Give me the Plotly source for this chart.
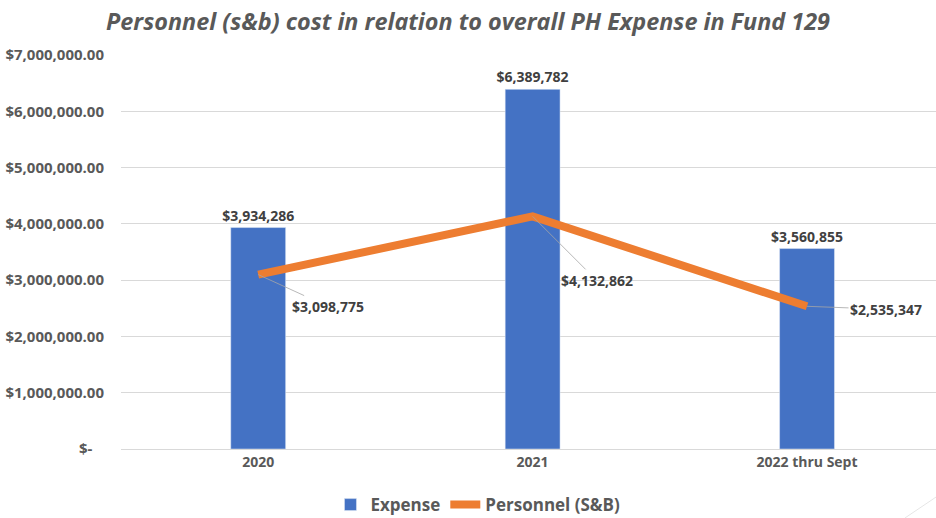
import plotly.graph_objects as go

categories = ["2020", "2021", "2022 thru Sept"]
expense = [3934286, 6389782, 3560855]
personnel = [3098775, 4132862, 2535347]
y_ticks = [0, 1000000, 2000000, 3000000, 4000000, 5000000, 6000000, 7000000]
y_ticklabels = ["$-\u00a0\u00a0\u00a0", "$1,000,000.00", "$2,000,000.00", "$3,000,000.00",
                "$4,000,000.00", "$5,000,000.00", "$6,000,000.00", "$7,000,000.00"]
title_text = "Personnel (s&b) cost in relation to overall PH Expense in Fund 129"

FONT = "Open Sans, sans-serif"
GRAY = "#595959"
DARK = "#404040"

def money(v):
    return "${:,.0f}".format(v)

fig = go.Figure()
fig.add_trace(go.Bar(
    x=categories, y=expense, name="Expense",
    marker=dict(color="#4472C4"), width=0.2,
    text=[money(v) for v in expense], textposition="outside",
    constraintext="none",
    textfont=dict(family=FONT, size=14, color=DARK, weight="bold"),
    cliponaxis=False,
))
fig.add_trace(go.Scatter(
    x=categories, y=personnel, name="Personnel (S&B)", mode="lines",
    line=dict(color="#ED7D31", width=8),
))

offsets = [(70, 32), (64, 64), (79, 3)]
for i, (v, (ax, ay)) in enumerate(zip(personnel, offsets)):
    fig.add_annotation(
        x=i, y=v, xref="x", yref="y", text="<b>" + money(v) + "</b>", showarrow=True,
        arrowhead=0, arrowwidth=0.8, arrowcolor="#a6a6a6",
        ax=ax, ay=ay, xanchor="center", yanchor="middle",
        font=dict(family=FONT, size=14, color=DARK),
    )

fig.add_shape(type="line", xref="paper", yref="paper",
              x0=0.962, y0=-0.175, x1=1.0, y1=-0.122,
              line=dict(color="#e6e6e6", width=1))

fig.update_layout(
    width=936, height=518,
    margin=dict(l=121, r=0, t=55, b=69, autoexpand=False),
    paper_bgcolor="white", plot_bgcolor="white",
    title=dict(text="<b><i>" + title_text + "</i></b>", x=0.5, xref="container",
               y=0.958, yref="container", xanchor="center", yanchor="middle",
               font=dict(family=FONT, size=23.4, color=GRAY), automargin=False),
    showlegend=True,
    legend=dict(orientation="h", x=0.438, xref="paper", xanchor="center",
                y=0.025, yref="container", yanchor="middle",
                font=dict(family=FONT, size=17, color=GRAY, weight="bold"),
                itemwidth=30, tracegroupgap=0),
)
fig.update_xaxes(
    type="category", automargin=False,
    range=[-0.5, 2.47], showgrid=False, showline=True, linecolor="#d9d9d9",
    linewidth=1, ticks="", tickfont=dict(family=FONT, size=14, color=GRAY, weight="bold"),
)
fig.update_yaxes(
    automargin=False,
    range=[0, 7000000], tickvals=y_ticks, ticktext=y_ticklabels,
    showgrid=True, gridcolor="#d9d9d9", gridwidth=1, zeroline=False,
    ticks="", ticklabelstandoff=16,
    tickfont=dict(family=FONT, size=15, color=GRAY, weight="bold"),
)

fig.write_html("out.html", config={"displayModeBar": False},
               post_script="document.body.style.margin='0px';document.body.style.overflow='hidden';")
